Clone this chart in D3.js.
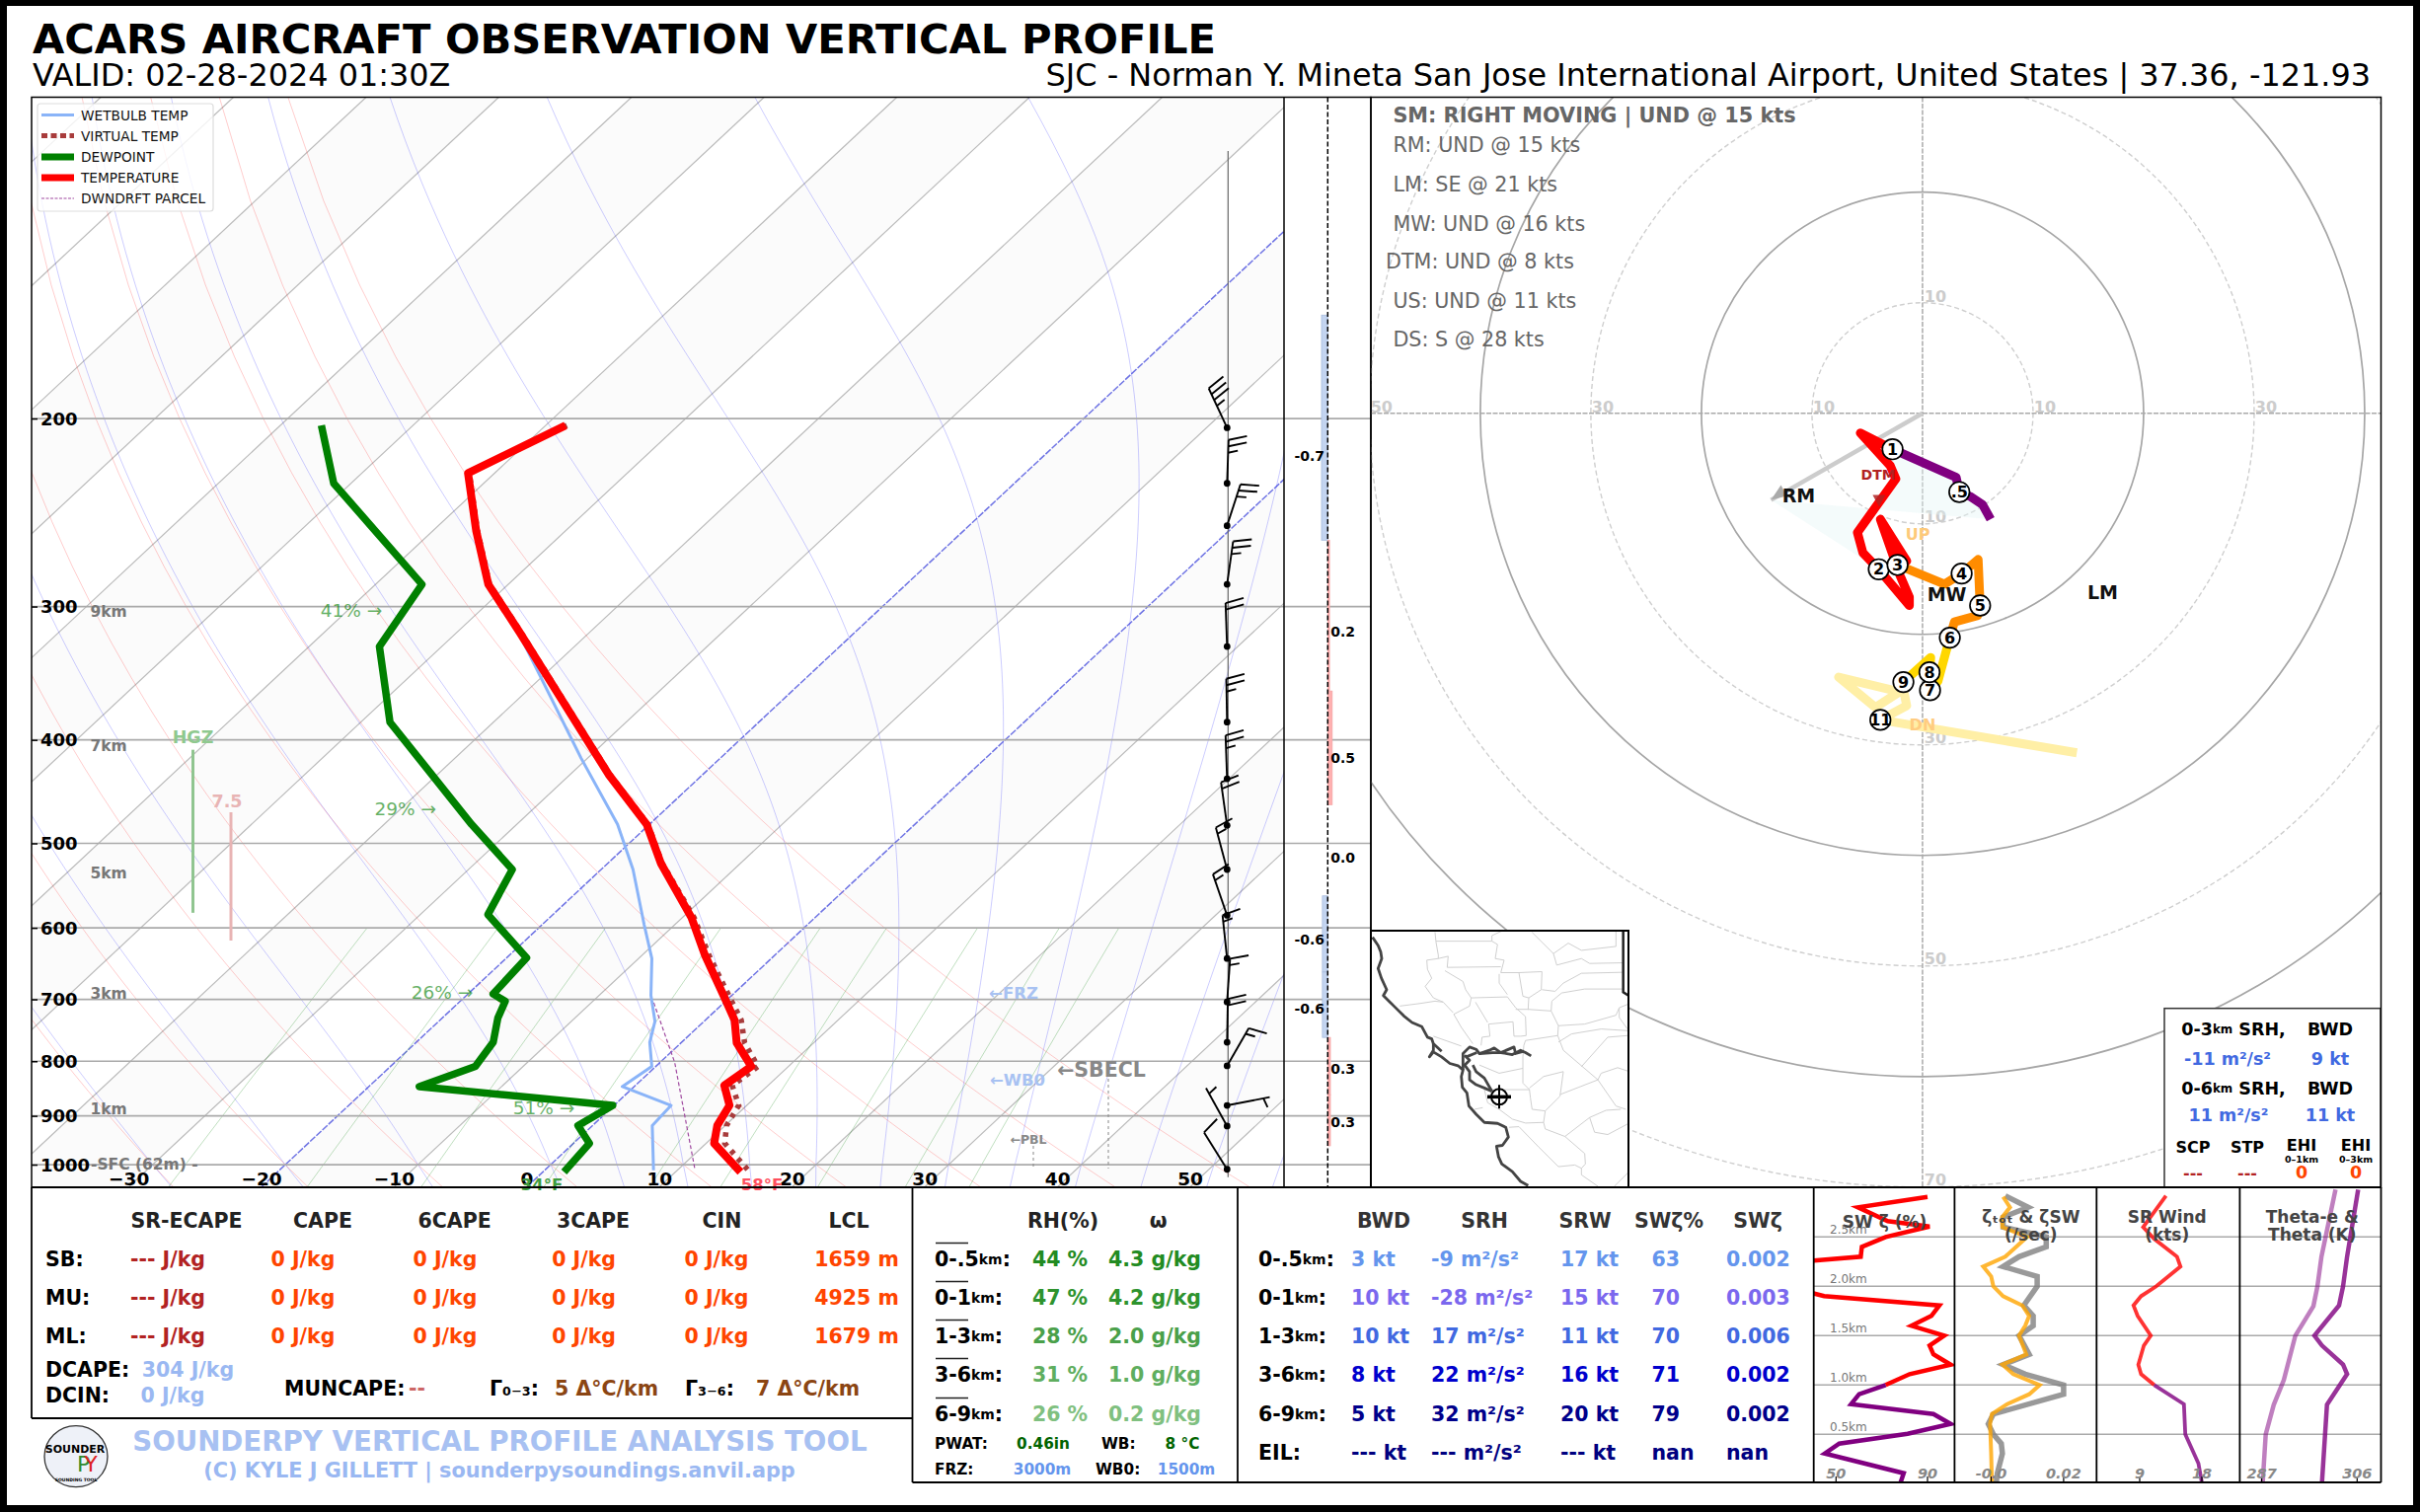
<!DOCTYPE html>
<html>
<head>
<meta charset="utf-8">
<script src="https://cdn.jsdelivr.net/npm/d3@7"></script>
<style>
  body { margin: 0; background: #000; }
  text { font-family: "DejaVu Sans"; }
</style>
</head>
<body>
<div id="chart"></div>
<script>
// Sounding values
const tempPres = [203, 225, 255, 286, 317, 431, 480, 522, 587, 636, 697, 732, 769, 809, 843, 880, 919, 955, 1016];
const tempC = [-58.5, -62.0, -56.7, -51.5, -45.3, -27.1, -20.2, -16.0, -9.3, -5.3, -0.4, 2.2, 4.2, 7.2, 6.7, 8.7, 9.4, 10.6, 14.9];
const virtC = [-58.4, -61.9, -56.6, -51.4, -45.2, -27.0, -20.1, -15.9, -9.1, -5.0, 0.0, 2.7, 4.8, 7.7, 7.3, 9.4, 10.1, 11.4, 15.6];
const dewPres = [203, 230, 286, 327, 385, 480, 529, 583, 640, 692, 703, 729, 768, 809, 845, 880, 919, 955, 1016];
const dewC = [-76.9, -71.3, -56.5, -54.7, -47.8, -33.4, -26.7, -24.9, -18.5, -18.1, -16.6, -15.8, -14.2, -13.6, -16.2, -0.1, -1.1, 1.2, 1.6];
const wetPres = [286, 317, 416, 480, 529, 596, 641, 694, 734, 768, 809, 845, 880, 919, 1012];
const wetC = [-51.6, -45.4, -30.5, -22.4, -17.6, -12.3, -9.0, -6.1, -3.7, -2.4, -0.3, -0.9, 4.3, 4.5, 8.2];
const dcapePres = [705, 802, 1009];
const dcapeC = [-5.3, 1.1, 11.2];

// Skew-T background line sets
const pressureTicks = [200, 300, 400, 500, 600, 700, 800, 900, 1000];
const tempTicks = [-30, -20, -10, 0, 10, 20, 30, 40, 50];
const isotherms = d3.range(-130, 60, 10);
const shadedFrom = [-100, -80, -60, -40, -20, 0, 20, 40];
const dryStart = [-30, -20, -10, 0, 10, 20, 30, 40, 50];
const moistStart = [-30, -20, -10, 0, 5, 10, 15, 20, 25, 30, 35, 40, 45, 50, 55];
const mixRatios = [0.0004, 0.001, 0.002, 0.004, 0.007, 0.01, 0.016, 0.024, 0.032];

// Wind barbs
const barbPres = [204, 230, 252, 286, 327, 385, 435, 481, 529, 584, 641, 704, 768, 808, 880, 920, 1010];
const barbDir = [335, 2, 18, 8, 358, 359, 358, 352, 345, 341, 354, 4, 1, 30, 79, 331, 328];
const barbKt = [35, 25, 25, 25, 20, 25, 25, 20, 15, 15, 15, 15, 20, 15, 5, 5, 10];

// Lapse-rate column between the skew-T and the hodograph
const columnEdges = [160, 260, 360, 460, 560, 660, 760, 860, 960];
const columnVals = [-0.7, 0.2, 0.5, 0.0, -0.6, -0.6, 0.3, 0.3];
const columnLabelPres = [217, 317, 416, 516, 615, 714, 813, 912];

// Hodograph (kt)
const hodoRings = [10, 20, 30, 40, 50, 60, 70];
const hodoPurpleU = [6.16, 5.42, 4.38, 3.33, 3.04, -2.71];
const hodoPurpleV = [-9.6, -8.26, -7.57, -7.13, -5.79, -3.26];
const hodoRedU = [-2.71, -5.62, -2.92, -2.41, -5.89, -5.39, -3.96, -1.19, -1.19, -2.02, -3.81, -1.43, -2.26];
const hodoRedV = [-3.26, -1.79, -4.75, -5.94, -10.79, -12.63, -14.12, -17.4, -16.65, -14.72, -9.6, -13.38, -13.73];
const hodoOrangeU = [-2.26, 1.99, 3.54, 5.03, 5.21, 5.0, 2.89, 2.47];
const hodoOrangeV = [-13.73, -15.46, -14.51, -13.23, -17.4, -18.3, -18.88, -20.31];
const hodoGoldU = [2.47, 1.4, 0.68, 0.63, 0.74, -1.73];
const hodoGoldV = [-20.31, -24.24, -25.07, -23.44, -22.1, -24.33];
const hodoPaleU = [-1.73, -1.73, -7.59, -4.26, -1.73, -1.43, -3.81, 13.96];
const hodoPaleV = [-24.33, -25.3, -23.88, -26.62, -24.98, -26.47, -27.75, -30.73];
const hodoMarks = ['.5', '1', '2', '3', '4', '5', '6', '7', '8', '9', '11'];
const hodoMarkU = [3.33, -2.71, -3.96, -2.26, 3.54, 5.21, 2.47, 0.68, 0.63, -1.73, -3.81];
const hodoMarkV = [-7.13, -3.26, -14.12, -13.73, -14.51, -17.4, -20.31, -25.07, -23.44, -24.33, -27.75];
const stormU = -13.7, stormV = -7.85;
const motionNames = ['RM', 'MW', 'LM', 'DTM', 'UP', 'DN'];
const motionU = [-11.2, 2.2, 16.3, -4.0, -0.42, 0.0];
const motionV = [-7.4, -16.33, -16.2, -5.55, -10.97, -28.2];
const motionText = ['RM: UND @ 15 kts', 'LM: SE @ 21 kts', 'MW: UND @ 16 kts', 'DTM: UND @ 8 kts', 'US: UND @ 11 kts', 'DS: S @ 28 kts'];

// Table text
const thermoHeads = ['SR-ECAPE', 'CAPE', '6CAPE', '3CAPE', 'CIN', 'LCL'];
const parcels = ['SB:', 'MU:', 'ML:'];
const srEcape = ['---', '---', '---'];
const cape = [0, 0, 0], cape6 = [0, 0, 0], cape3 = [0, 0, 0], cin = [0, 0, 0];
const lcl = [1659, 4925, 1679];
const moistLayers = ['0-.5', '0-1', '1-3', '3-6', '6-9'];
const layerRh = [44, 47, 28, 31, 26];
const layerMix = ['4.3', '4.2', '2.0', '1.0', '0.2'];
const kinLayers = ['0-.5', '0-1', '1-3', '3-6', '6-9'];
const bwd = ['3', '10', '10', '8', '5', '---'];
const srh = ['-9', '-28', '17', '22', '32', '---'];
const srw = ['17', '15', '11', '16', '20', '---'];
const swPct = ['63', '70', '70', '71', '79', 'nan'];
const swVort = ['0.002', '0.003', '0.006', '0.002', '0.002', 'nan'];

// Low level profile panels (height in km)
const swH = [2.906, 2.8, 2.66, 2.606, 2.5, 2.4, 2.3, 2.26, 2.2, 2.0, 1.9, 1.806, 1.7, 1.6, 1.5, 1.4, 1.31, 1.206, 1.11, 1.0];
const swRed = [90, 59.6, 72.6, 90.9, 71.7, 61.3, 60.8, 40.3, 10, 28, 44.8, 95.2, 91.7, 83, 97.3, 90.9, 92.6, 100.1, 82.2, 71.7];
const swLowH = [1.0, 0.906, 0.806, 0.706, 0.606, 0.506, 0.406, 0.306, 0.106, 0.01];
const swPurple = [71.7, 60.1, 56.6, 92.6, 100.1, 81.3, 51.4, 45.1, 79.6, 78.2];
const zetaTotH = [2.906, 2.8, 2.7, 2.6, 2.5, 2.3, 2.2, 2.1, 2.0, 1.9, 1.806, 1.7, 1.6, 1.5, 1.31, 1.206, 1.11, 1.0, 0.906, 0.806, 0.706, 0.606, 0.506, 0.306, 0.01];
const zetaTot = [0.0033, 0.0052, 0.003, 0.0031, 0.0099, 0.0039, -0.0022, 0, 0.0006, 0.0033, 0.0086, 0.0105, 0.0094, 0.0077, 0.0097, 0.0031, 0.0061, 0.0134, 0.0105, 0.0044, 0.0002, -0.0003, -0.0002, 0, 0.0002];
const zetaSwH = [2.916, 2.8, 2.7, 2.6, 2.5, 2.4, 2.3, 2.2, 2.1, 2.0, 1.806, 1.7, 1.6, 1.5, 1.31, 1.206, 1.11, 1.0, 0.906, 0.706, 0.606, 0.5, 0.406, 0.306, 0.106, 0.01];
const zetaSw = [0.0039, 0.0102, 0.0033, 0.0033, 0.0152, 0.0152, 0.0077, 0.0033, 0.0127, 0.0127, 0.009, 0.0116, 0.0116, 0.0077, 0.0105, 0.0033, 0.0094, 0.02, 0.02, 0.0006, -0.0008, 0.0006, 0.0028, 0.0031, 0.0017, 0.0014];
const srWindH = [2.916, 2.6, 2.48, 2.3, 2.2, 2.0, 1.9, 1.806, 1.7, 1.5, 1.4, 1.206, 1.11, 1.0];
const srWindKt = [12.8, 9.5, 11.1, 14.4, 14.9, 11.4, 9.2, 8.1, 8.7, 10.6, 9.6, 8.8, 9.2, 11.1];
const srWindLowH = [1.0, 0.806, 0.5, 0.206, 0.01];
const srWindLowKt = [11.1, 15.4, 15.6, 17.5, 18];
const thetaEH = [0.01, 0.5, 0.8, 1.05, 1.5, 1.8, 2.0, 2.3, 2.98];
const thetaE = [287.2, 287.8, 289.4, 291.4, 293.7, 297.3, 298.1, 298.9, 301.7];
const thetaH = [0.01, 0.8, 1.11, 1.206, 1.4, 1.5, 1.806, 2.0, 2.3, 2.98];
const theta = [299, 300, 304, 303.2, 299, 297.5, 302.4, 303.2, 304, 306.2];
const kmLines = [0.5, 1.0, 1.5, 2.0, 2.5];

// Locator map outlines, traced on a 783 x 783 map grid
const mapCoast = [
  [[5,20],[22,45],[30,65],[33,85],[22,115],[32,145],[48,180],[38,198],[70,230],[100,260],[125,280],[155,293],[172,325],[185,330],[190,345],[215,368]],
  [[190,345],[190,365],[178,385],[190,370],[215,385],[240,405],[265,412],[280,425],[275,445],[278,478],[292,495],[298,535],[320,560],[345,585],[385,588],[410,600],[418,630],[400,655],[382,658],[388,690],[398,712],[430,735],[455,765],[478,778]],
  [[280,425],[280,375],[300,355],[320,362],[330,375],[370,372],[395,372],[430,378],[455,365],[470,372],[487,382]],
  [[330,375],[360,365],[375,358],[395,372],[435,355],[440,375],[465,368]],
  [[285,380],[300,395],[285,410],[300,430],[300,455],[320,470],[345,480],[368,490]],
  [[290,385],[322,372]], [[310,410],[320,430],[345,450],[368,490]]
];
const mapBorder = [[767,0],[767,188],[783,198]];
const mapCounties = [
  [[195,5],[198,35],[205,75],[205,85],[235,78],[232,112],[395,110]],
  [[198,32],[368,32],[385,42],[378,85],[405,90],[395,128],[450,128],[520,125]],
  [[368,32],[368,15],[400,0]],
  [[490,5],[555,70],[600,38],[640,60],[745,48],[745,0]],
  [[555,70],[565,105],[640,85],[665,100],[765,98]],
  [[205,85],[170,90],[172,118],[185,145],[165,170],[190,205],[220,218],[250,250]],
  [[225,122],[280,155],[288,180],[305,205],[415,202],[440,235],[470,262],[472,320],[455,322],[435,322],[432,278],[358,285],[362,322],[338,325],[335,350]],
  [[88,230],[150,222],[195,215],[220,218]],
  [[305,205],[300,230],[252,255],[275,295],[310,345]],
  [[318,218],[355,280]],
  [[390,132],[390,160],[415,195]],
  [[450,128],[462,200],[480,205],[478,240],[548,245],[570,290],[568,320],[585,365],[690,455]],
  [[520,125],[518,180],[480,205]],
  [[520,180],[560,185],[585,160],[640,130],[765,127]],
  [[548,245],[550,215],[580,190],[650,178],[765,178]],
  [[440,240],[480,240]],
  [[570,290],[650,285],[745,258],[755,235],[780,225]],
  [[570,340],[610,315],[700,300],[780,305]],
  [[755,235],[755,265],[780,300]],
  [[640,415],[720,325],[780,320]],
  [[465,350],[470,335],[568,320]],
  [[465,350],[462,385],[462,465],[482,485],[345,485],[355,525],[390,545],[430,575],[470,587],[525,585],[530,550],[490,545],[485,510],[482,485]],
  [[482,480],[525,445],[585,430],[575,505],[530,550]],
  [[575,500],[690,455],[745,535],[775,545]],
  [[690,455],[700,435],[750,418],[780,428]],
  [[525,585],[530,605],[590,628],[650,680],[652,712],[640,725],[620,715],[570,720],[510,660],[450,598],[420,600]],
  [[590,628],[665,570],[680,615],[720,622],[780,590]],
  [[665,570],[715,548],[760,545]],
  [[640,725],[640,745],[690,780]],
  [[740,780],[780,740]],
  [[330,410],[390,435],[462,420]],
  [[190,322],[275,352]],
  [[340,540],[315,545]]
];
const stationGrid = [390, 507];

// Page
const W = 2452, H = 1532;
const svg = d3.select("#chart").append("svg").attr("width", W).attr("height", H)
  .style("display", "block");
svg.append("rect").attr("width", W).attr("height", H).attr("fill", "#000");
svg.append("rect").attr("x", 7).attr("y", 6).attr("width", W - 14).attr("height", H - 13).attr("fill", "#fff");

function label(g, x, y, s, o = {}) {
  return g.append("text").attr("x", x).attr("y", y).text(s)
    .attr("text-anchor", o.anchor || "start")
    .attr("dominant-baseline", "central")
    .attr("font-size", o.size || 20.5)
    .attr("font-weight", o.weight || "bold")
    .attr("font-style", o.italic ? "italic" : null)
    .attr("fill", o.fill || "#000")
    .attr("opacity", o.opacity === undefined ? null : o.opacity);
}
const pts = (xs, ys) => xs.map((d, i) => [d, ys[i]]);

// Skew-T scales
const left = 32, right = 1301, top_ = 98.5, bottom = 1203;
const y = d3.scaleLog().domain([1050, 100]).range([bottom, top_]);
const xT = d3.scaleLinear().domain([-37.3, 57.1]).range([left, right]);
const skew = 1.07;
const sx = (t, p) => xT(t) + skew * (bottom - y(p));
const tLine = d3.line().x(d => sx(d[1], d[0])).y(d => y(d[0]));

svg.append("clipPath").attr("id", "skewClip").append("rect")
  .attr("x", left).attr("y", top_).attr("width", right - left).attr("height", bottom - top_);
const bg = svg.append("g").attr("clip-path", "url(#skewClip)");

// Alternating isotherm shading
shadedFrom.forEach(t => {
  bg.append("path").attr("fill", "#fbfbfb")
    .attr("d", d3.line()([[sx(t, 1050), y(1050)], [sx(t + 10, 1050), y(1050)], [sx(t + 10, 100), y(100)], [sx(t, 100), y(100)]]));
});

// Isotherms
isotherms.forEach(t => {
  const special = t === 0 || t === -20;
  bg.append("path").attr("fill", "none")
    .attr("stroke", special ? "#6f74e4" : "#bbb")
    .attr("stroke-width", special ? 1.5 : 1.2)
    .attr("stroke-dasharray", special ? "7 1.5" : null)
    .attr("d", tLine([[1050, t], [100, t]]));
});

// Dry adiabats
const presAll = d3.range(1050, 95, -25);
dryStart.forEach(t0 => {
  bg.append("path").attr("fill", "none").attr("stroke", "red").attr("stroke-opacity", 0.2).attr("stroke-width", 1)
    .attr("d", tLine(presAll.map(p => [p, (t0 + 273.15) * Math.pow(p / 1000, 0.286) - 273.15])));
});

// Moist adiabats, stepped from 1000 hPa
function satMix(tK, p) {
  const e = 6.112 * Math.exp(17.67 * (tK - 273.15) / (tK - 29.65));
  return 0.622 * e / (p - e);
}
function moistLine(t0) {
  const out = [];
  let tK = t0 + 273.15;
  const slope = (t, p) => {
    const r = satMix(t, p);
    return (287 * t + 2.5e6 * r) / (1005 * p + 2.5e6 * 2.5e6 * r * 0.622 * p / (287 * t * t));
  };
  for (let p = 1000; p >= 100; p -= 5) {
    out.push([p, tK - 273.15]);
    tK -= slope(tK, p) * 5;
  }
  const t1 = t0 + 273.15 + slope(t0 + 273.15, 1000) * 50;
  out.unshift([1050, t1 - 273.15]);
  return out;
}
moistStart.forEach(t0 => {
  bg.append("path").attr("fill", "none").attr("stroke", "blue").attr("stroke-opacity", 0.2).attr("stroke-width", 1)
    .attr("d", tLine(moistLine(t0)));
});

// Mixing ratio lines
mixRatios.forEach(w => {
  const line = d3.range(1050, 599, -25).map(p => {
    const v = Math.log((w * p / (0.622 + w)) / 6.112);
    return [p, 243.5 * v / (17.67 - v)];
  });
  bg.append("path").attr("fill", "none").attr("stroke", "green").attr("stroke-opacity", 0.25).attr("stroke-width", 1)
    .attr("d", tLine(line));
});

// Pressure lines run on through the column to the hodograph
pressureTicks.forEach(p => {
  svg.append("line").attr("x1", left).attr("x2", 1389).attr("y1", y(p)).attr("y2", y(p))
    .attr("stroke", "#aaa").attr("stroke-width", 1.7);
});

// Profile lines
const prof = svg.append("g").attr("clip-path", "url(#skewClip)");
prof.append("path").datum(pts(dcapePres, dcapeC)).attr("fill", "none").attr("stroke", "#a04aa0")
  .attr("stroke-width", 1.2).attr("stroke-dasharray", "4 2.5").attr("d", tLine);
prof.append("path").datum(pts(wetPres, wetC)).attr("fill", "none").attr("stroke", "#8ab4f8")
  .attr("stroke-width", 3).attr("stroke-linejoin", "round").attr("d", tLine);
prof.append("path").datum(pts(tempPres, virtC)).attr("fill", "none").attr("stroke", "#a83c3c")
  .attr("stroke-width", 5.5).attr("stroke-dasharray", "4.5 6").attr("d", tLine);
prof.append("path").datum(pts(dewPres, dewC)).attr("fill", "none").attr("stroke", "#008000")
  .attr("stroke-width", 7.5).attr("stroke-linejoin", "round").attr("d", tLine);
prof.append("path").datum(pts(tempPres, tempC)).attr("fill", "none").attr("stroke", "#ff0000")
  .attr("stroke-width", 8).attr("stroke-linejoin", "round").attr("d", tLine);

// Barbs
const barbX = 1243.3, staffLen = 44;
svg.append("line").attr("x1", 1244.3).attr("x2", 1244.3).attr("y1", 153).attr("y2", 1192.7)
  .attr("stroke", "#666").attr("stroke-width", 1.2);
const barbs = svg.append("g").attr("stroke", "#000").attr("stroke-width", 1.9).attr("fill", "none");
barbPres.forEach((p, i) => {
  const a = barbDir[i] * Math.PI / 180;
  const dx = Math.sin(a), dy = -Math.cos(a);
  const y0 = y(p);
  const tipX = barbX + dx * staffLen, tipY = y0 + dy * staffLen;
  barbs.append("line").attr("x1", barbX).attr("y1", y0).attr("x2", tipX).attr("y2", tipY);
  const tilt = 14 * Math.PI / 180;
  const fx = -dy * Math.cos(tilt) + dx * Math.sin(tilt);
  const fy = dx * Math.cos(tilt) + dy * Math.sin(tilt);
  let kt = barbKt[i], step = kt < 10 ? 1 : 0;
  while (kt >= 5) {
    const len = kt >= 10 ? 19 : 10;
    const bx = tipX - dx * step * 6.5, by = tipY - dy * step * 6.5;
    barbs.append("line").attr("x1", bx).attr("y1", by).attr("x2", bx + fx * len).attr("y2", by + fy * len);
    kt -= kt >= 10 ? 10 : 5;
    step++;
  }
  svg.append("circle").attr("cx", barbX).attr("cy", y0).attr("r", 3.4).attr("fill", "#000");
});

// Column bars
const colX = d3.scaleLinear().domain([0, 1]).range([1345.3, 1354.3]);
columnVals.forEach((v, i) => {
  if (v === 0) return;
  svg.append("rect").attr("x", Math.min(colX(0), colX(v))).attr("width", Math.abs(colX(v) - colX(0)))
    .attr("y", y(columnEdges[i])).attr("height", y(columnEdges[i + 1]) - y(columnEdges[i]))
    .attr("fill", v < 0 ? "#c3d4f0" : "#ffb0b0")
    .attr("stroke", v < 0 ? "#a9bcdc" : "#f5a5a5").attr("stroke-width", 0.8);
});
svg.append("line").attr("x1", colX(0)).attr("x2", colX(0)).attr("y1", top_).attr("y2", bottom)
  .attr("stroke", "#000").attr("stroke-width", 1.5).attr("stroke-dasharray", "5 2.5");
columnVals.forEach((v, i) => {
  label(svg, v < 0 ? 1326.7 : 1360.7, y(columnLabelPres[i]), v.toFixed(1), { anchor: "middle", size: 14 });
});

// Left and bottom axes drawn inside the plot
const yAxis = svg.append("g").attr("transform", `translate(${left},0)`)
  .call(d3.axisLeft(y).tickValues(pressureTicks).tickFormat(d3.format("d")).tickSize(-6));
yAxis.select(".domain").remove();
yAxis.selectAll("line").attr("stroke", "#000").attr("stroke-width", 1.5);
yAxis.selectAll("text").attr("x", 9).attr("dy", "0.35em").attr("text-anchor", "start")
  .attr("font-size", 18).attr("font-weight", "bold").attr("font-family", "DejaVu Sans").attr("fill", "#000");

const xAxis = svg.append("g").attr("transform", "translate(0,1195)")
  .call(d3.axisBottom(xT).tickValues(tempTicks).tickFormat(d3.format("d")).tickSize(0));
xAxis.select(".domain").remove();
xAxis.selectAll("text").attr("y", 0).attr("dy", "0.35em")
  .attr("font-size", 18.5).attr("font-weight", "bold").attr("font-family", "DejaVu Sans").attr("fill", "#000");

// Skew-T annotations
[["9km", 619.5], ["7km", 756], ["5km", 884.5], ["3km", 1006.8], ["1km", 1124]].forEach(d => {
  label(svg, 110, d[1], d[0], { anchor: "middle", size: 15.5, fill: "#777" });
});
label(svg, 92, 1180, "-SFC (62m) -", { size: 15.5, fill: "#777" });
[["41% →", 356, 618.7], ["29% →", 410.7, 819.5], ["26% →", 448, 1005], ["51% →", 551, 1122]].forEach(d => {
  label(svg, d[1], d[2], d[0], { anchor: "middle", size: 18.5, weight: "normal", fill: "#008000", opacity: 0.6 });
});
label(svg, 195.5, 747, "HGZ", { anchor: "middle", size: 17.5, fill: "#8fc98f" });
svg.append("line").attr("x1", 195.5).attr("x2", 195.5).attr("y1", y(408.6)).attr("y2", y(580.8))
  .attr("stroke", "#90c590").attr("stroke-width", 3);
label(svg, 230, 812, "7.5", { anchor: "middle", size: 17.5, fill: "#e8b4b4" });
svg.append("line").attr("x1", 234).attr("x2", 234).attr("y1", y(467.6)).attr("y2", y(616.7))
  .attr("stroke", "#e8b4b4").attr("stroke-width", 3);
label(svg, 1027, 1006.4, "←FRZ", { anchor: "middle", size: 16.5, fill: "#a8c2f2" });
label(svg, 1031, 1094.5, "←WB0", { anchor: "middle", size: 16.5, fill: "#a8c2f2" });
label(svg, 1116, 1084, "←SBECL", { anchor: "middle", size: 20.5, fill: "#888" });
label(svg, 1042, 1154, "←PBL", { anchor: "middle", size: 12.5, fill: "#888" });
[[1123, 1093], [1047, 1161]].forEach(d => {
  svg.append("line").attr("x1", d[0]).attr("x2", d[0]).attr("y1", d[1]).attr("y2", 1184)
    .attr("stroke", "#888").attr("stroke-width", 1).attr("stroke-dasharray", "3 3");
});
label(svg, 549, 1200.6, "34°F", { anchor: "middle", size: 16.5, fill: "#3f9c3f" });
label(svg, 772, 1200.6, "58°F", { anchor: "middle", size: 16.5, fill: "#ff5060" });

// Legend
const leg = svg.append("g");
leg.append("rect").attr("x", 38).attr("y", 105).attr("width", 178).attr("height", 109).attr("rx", 3)
  .attr("fill", "#fff").attr("fill-opacity", 0.8).attr("stroke", "#ddd").attr("stroke-width", 1.2);
[["WETBULB TEMP", 116.6, "#8ab4f8", 3, null],
 ["VIRTUAL TEMP", 137.6, "#a83c3c", 5, "6 3.5"],
 ["DEWPOINT", 159, "#008000", 7, null],
 ["TEMPERATURE", 180, "#ff0000", 7, null],
 ["DWNDRFT PARCEL", 201, "#a04aa0", 1.2, "3 1.5"]].forEach(d => {
  leg.append("line").attr("x1", 42).attr("x2", 75).attr("y1", d[1]).attr("y2", d[1])
    .attr("stroke", d[2]).attr("stroke-width", d[3]).attr("stroke-dasharray", d[4]);
  label(leg, 82, d[1], d[0], { size: 13.7, weight: "normal", fill: "#111" });
});

// Frames of the skew-T and the column
svg.append("rect").attr("x", left).attr("y", top_).attr("width", 1389 - left).attr("height", bottom - top_)
  .attr("fill", "none").attr("stroke", "#000").attr("stroke-width", 1.5);
svg.append("line").attr("x1", right).attr("x2", right).attr("y1", top_).attr("y2", bottom).attr("stroke", "#000").attr("stroke-width", 1.5);

// Hodograph
const hx = d3.scaleLinear().domain([-49.9, 41.43]).range([1389, 2412]);
const hy = d3.scaleLinear().domain([28.6, -70.05]).range([top_, bottom]);
const hLine = d3.line().x(d => hx(d[0])).y(d => hy(d[1]));
svg.append("clipPath").attr("id", "hodoClip").append("rect")
  .attr("x", 1389).attr("y", top_).attr("width", 2412 - 1389).attr("height", bottom - top_);
const hodo = svg.append("g").attr("clip-path", "url(#hodoClip)");
hodoRings.forEach(r => {
  const solid = r % 20 === 0;
  hodo.append("circle").attr("cx", hx(0)).attr("cy", hy(0)).attr("r", hx(r) - hx(0)).attr("fill", "none")
    .attr("stroke", solid ? "#a6a6a6" : "#cfcfcf").attr("stroke-width", solid ? 1.7 : 1.4)
    .attr("stroke-dasharray", solid ? null : "5 3");
});
hodo.append("line").attr("x1", 1389).attr("x2", 2412).attr("y1", hy(0)).attr("y2", hy(0))
  .attr("stroke", "#aaa").attr("stroke-width", 1.5).attr("stroke-dasharray", "5 1.5");
hodo.append("line").attr("x1", hx(0)).attr("x2", hx(0)).attr("y1", top_).attr("y2", bottom)
  .attr("stroke", "#aaa").attr("stroke-width", 1.5).attr("stroke-dasharray", "5 1.5");
[10, 30, 50, 70].forEach(r => {
  label(hodo, hx(0) + 13, hy(-r) - 7, r, { anchor: "middle", size: 16, fill: "#ccc" });
  if (r < 70) {
    label(hodo, hx(-r) + 12, hy(0) - 6, r, { anchor: "middle", size: 16, fill: "#ccc" });
    if (r < 50) label(hodo, hx(r) + 12, hy(0) - 6, r, { anchor: "middle", size: 16, fill: "#ccc" });
  }
  if (r === 10) label(hodo, hx(0) + 13, hy(r) - 6, r, { anchor: "middle", size: 16, fill: "#ccc" });
});

// Shaded helicity area and storm motion vector
const srhArea = [[stormU, stormV]].concat(pts(hodoPurpleU, hodoPurpleV), pts(hodoRedU.slice(1, 7), hodoRedV.slice(1, 7)));
hodo.append("path").attr("d", hLine(srhArea) + "Z").attr("fill", "#e4f4f6").attr("opacity", 0.4);
hodo.append("path").attr("d", hLine([[0, 0], [stormU, stormV]]))
  .attr("stroke", "#ccc").attr("stroke-width", 4.5).attr("fill", "none");
hodo.append("path").attr("fill", "#aaa").attr("stroke", "none")
  .attr("d", d3.line()([[hx(stormU), hy(stormV)], [hx(stormU) + 16, hy(stormV) - 4], [hx(stormU) + 10, hy(stormV) - 15]]) + "Z");

// Hodograph trace, one colour per layer
[[hodoPaleU, hodoPaleV, "#ffefa6"], [hodoGoldU, hodoGoldV, "#ffd700"], [hodoOrangeU, hodoOrangeV, "#ff8c00"],
 [hodoPurpleU, hodoPurpleV, "#800080"], [hodoRedU, hodoRedV, "#ff0000"]].forEach(d => {
  hodo.append("path").attr("d", hLine(pts(d[0], d[1]))).attr("fill", "none")
    .attr("stroke", d[2]).attr("stroke-width", 9).attr("stroke-linejoin", "round");
});
hodo.append("path").attr("fill", "#b22222").attr("opacity", 0.85)
  .attr("d", d3.line()([[hx(-3.93) - 6.5, hy(-7.93) - 6], [hx(-3.93) + 6.5, hy(-7.93) - 6], [hx(-3.93), hy(-7.93) + 6]]) + "Z");
hodoMarks.forEach((m, i) => {
  hodo.append("circle").attr("cx", hx(hodoMarkU[i])).attr("cy", hy(hodoMarkV[i])).attr("r", 10.3)
    .attr("fill", "#fff").attr("stroke", "#000").attr("stroke-width", 1.7);
  label(hodo, hx(hodoMarkU[i]), hy(hodoMarkV[i]), m, { anchor: "middle", size: 16 });
});
motionNames.forEach((m, i) => {
  const o = { RM: ["#111", 19], MW: ["#111", 19], LM: ["#111", 19], DTM: ["#b22222", 14], UP: ["#fdc97a", 16], DN: ["#ffcc80", 16] }[m];
  label(hodo, hx(motionU[i]), hy(motionV[i]), m, { anchor: "middle", size: o[1], fill: o[0] });
});

label(svg, 1411.4, 117, "SM: RIGHT MOVING | UND @ 15 kts", { size: 20.8, fill: "#666" });
motionText.forEach((t, i) => {
  label(svg, t.startsWith("DTM") ? 1404 : 1411.4, [147, 187, 226.5, 265, 304.6, 343.5][i], t, { size: 20.7, weight: "normal", fill: "#666" });
});

// Locator map
const mx = d3.scaleLinear().domain([0, 783]).range([1389, 1650]);
const my = d3.scaleLinear().domain([0, 783]).range([943, 1203]);
const mLine = d3.line().x(d => mx(d[0])).y(d => my(d[1]));
svg.append("clipPath").attr("id", "mapClip").append("rect").attr("x", 1389).attr("y", 943).attr("width", 261).attr("height", 260);
svg.append("rect").attr("x", 1389).attr("y", 943).attr("width", 261).attr("height", 260).attr("fill", "#fff");
const map = svg.append("g").attr("clip-path", "url(#mapClip)");
mapCounties.forEach(c => {
  map.append("path").attr("d", mLine(c)).attr("fill", "none").attr("stroke", "#d0d0d0").attr("stroke-width", 1);
});
mapCoast.forEach(c => {
  map.append("path").attr("d", mLine(c)).attr("fill", "none").attr("stroke", "#444").attr("stroke-width", 2.8).attr("stroke-linejoin", "round");
});
map.append("path").attr("d", mLine(mapBorder)).attr("fill", "none").attr("stroke", "#222").attr("stroke-width", 2.5);
svg.append("rect").attr("x", 1389).attr("y", 943).attr("width", 261).attr("height", 260)
  .attr("fill", "none").attr("stroke", "#000").attr("stroke-width", 2);
const sxp = mx(stationGrid[0]), syp = my(stationGrid[1]);
svg.append("circle").attr("cx", sxp).attr("cy", syp).attr("r", 8).attr("fill", "none").attr("stroke", "#000").attr("stroke-width", 2);
svg.append("line").attr("x1", sxp - 12).attr("x2", sxp + 12).attr("y1", syp).attr("y2", syp).attr("stroke", "#000").attr("stroke-width", 3.5);
svg.append("line").attr("x1", sxp).attr("x2", sxp).attr("y1", syp - 12).attr("y2", syp + 12).attr("stroke", "#000").attr("stroke-width", 2);

// SRH inset box
const box = svg.append("g");
box.append("rect").attr("x", 2193).attr("y", 1021.7).attr("width", 219).attr("height", 181.3)
  .attr("fill", "#fff").attr("stroke", "#333").attr("stroke-width", 1.5);
function kmText(g, x, y, head, tail, o = {}) {
  const t = label(g, x, y, head, { size: o.size || 17.5, anchor: o.anchor, fill: o.fill });
  t.append("tspan").attr("font-size", (o.size || 17.5) * 0.68).text("km");
  if (tail) t.append("tspan").text(tail);
  return t;
}
kmText(box, 2263, 1043, "0-3", " SRH,", { anchor: "middle" });
label(box, 2361, 1043, "BWD", { anchor: "middle", size: 17.5 });
label(box, 2257, 1073, "-11 m²/s²", { anchor: "middle", size: 17.5, fill: "#4169e1" });
label(box, 2361, 1073, "9 kt", { anchor: "middle", size: 17.5, fill: "#4169e1" });
kmText(box, 2263, 1102.7, "0-6", " SRH,", { anchor: "middle" });
label(box, 2361, 1102.7, "BWD", { anchor: "middle", size: 17.5 });
label(box, 2258, 1130, "11 m²/s²", { anchor: "middle", size: 17.5, fill: "#4169e1" });
label(box, 2361, 1130, "11 kt", { anchor: "middle", size: 17.5, fill: "#4169e1" });
label(box, 2222, 1162, "SCP", { anchor: "middle", size: 16 });
label(box, 2277, 1162, "STP", { anchor: "middle", size: 16 });
label(box, 2332, 1160, "EHI", { anchor: "middle", size: 16 });
label(box, 2387, 1160, "EHI", { anchor: "middle", size: 16 });
label(box, 2332, 1174, "0–1km", { anchor: "middle", size: 9.5 });
label(box, 2387, 1174, "0–3km", { anchor: "middle", size: 9.5 });
label(box, 2222, 1188, "---", { anchor: "middle", size: 16, fill: "#b22222" });
label(box, 2277, 1188, "---", { anchor: "middle", size: 16, fill: "#b22222" });
label(box, 2332, 1188, "0", { anchor: "middle", size: 17.5, fill: "#ff4500" });
label(box, 2387, 1188, "0", { anchor: "middle", size: 17.5, fill: "#ff4500" });

// Titles
label(svg, 33, 39, "ACARS AIRCRAFT OBSERVATION VERTICAL PROFILE", { size: 41.7 });
label(svg, 33, 76, "VALID: 02-28-2024 01:30Z", { size: 31.9, weight: "normal" });
label(svg, 2402, 76, "SJC - Norman Y. Mineta San Jose International Airport, United States | 37.36, -121.93", { anchor: "end", size: 31.9, weight: "normal" });

// Thermo table
const tbl = svg.append("g").attr("transform", "translate(0,1.5)");
const headX = [189, 327, 460.6, 601, 731.5, 860];
thermoHeads.forEach((h, i) => label(tbl, headX[i], 1235, h, { anchor: "middle", fill: "#222" }));
parcels.forEach((p, r) => {
  const yy = [1274, 1313, 1352][r];
  label(tbl, 46, yy, p);
  label(tbl, 170, yy, srEcape[r] + " J/kg", { anchor: "middle", fill: "#b22222" });
  [cape, cape6, cape3, cin].forEach((col, c) => {
    label(tbl, [307, 451, 591.6, 726][c], yy, col[r] + " J/kg", { anchor: "middle", fill: "#ff4500" });
  });
  label(tbl, 868, yy, lcl[r] + " m", { anchor: "middle", fill: "#ff4500" });
});
label(tbl, 46, 1386.7, "DCAPE:");
label(tbl, 46, 1412.7, "DCIN:");
label(tbl, 190.5, 1386.7, "304 J/kg", { anchor: "middle", fill: "#9ab8f2" });
label(tbl, 175, 1412.7, "0 J/kg", { anchor: "middle", fill: "#9ab8f2" });
label(tbl, 288, 1405, "MUNCAPE:");
label(tbl, 414, 1405, "--", { fill: "#cc6666" });
label(tbl, 496, 1405, "Γ₀₋₃:");
label(tbl, 562, 1405, "5 Δ°C/km", { fill: "#8b4513" });
label(tbl, 694, 1405, "Γ₃₋₆:");
label(tbl, 766, 1405, "7 Δ°C/km", { fill: "#8b4513" });

// Moisture table
label(tbl, 1077, 1235, "RH(%)", { anchor: "middle", fill: "#222" });
label(tbl, 1173.6, 1235, "ω", { anchor: "middle", fill: "#222" });
const moistColors = ["#228b22", "#2e932e", "#4aa04a", "#5fae5f", "#80c080"];
moistLayers.forEach((m, r) => {
  const yy = [1274, 1313, 1352, 1391, 1431][r];
  tbl.append("line").attr("x1", 948).attr("x2", 981).attr("y1", yy - 16).attr("y2", yy - 16).attr("stroke", "#222").attr("stroke-width", 1.5);
  kmText(tbl, 947, yy, m, ":", { size: 20.5 });
  label(tbl, 1074, yy, layerRh[r] + " %", { anchor: "middle", fill: moistColors[r] });
  label(tbl, 1170, yy, layerMix[r] + " g/kg", { anchor: "middle", fill: moistColors[r] });
});
label(tbl, 947, 1461.7, "PWAT:", { size: 15.3 });
label(tbl, 1057, 1461.7, "0.46in", { anchor: "middle", size: 15.3, fill: "#006400" });
label(tbl, 1116, 1461.7, "WB:", { size: 15.3 });
label(tbl, 1198, 1461.7, "8 °C", { anchor: "middle", size: 15.3, fill: "#006400" });
label(tbl, 947, 1487, "FRZ:", { size: 15.3 });
label(tbl, 1056, 1487, "3000m", { anchor: "middle", size: 15.3, fill: "#6495ed" });
label(tbl, 1110, 1487, "WB0:", { size: 15.3 });
label(tbl, 1202, 1487, "1500m", { anchor: "middle", size: 15.3, fill: "#6495ed" });

// Kinematic table
[["BWD", 1402], ["SRH", 1504], ["SRW", 1606], ["SWζ%", 1691], ["SWζ", 1781]].forEach(d => {
  label(tbl, d[1], 1235, d[0], { anchor: "middle", fill: "#333" });
});
const kinColors = ["#6495ed", "#7b68ee", "#4169e1", "#0000cd", "#00008b", "#000080"];
[1274, 1313, 1352, 1391, 1431, 1470].forEach((yy, r) => {
  if (r < 5) kmText(tbl, 1275, yy, kinLayers[r], ":", { size: 20.5 });
  else label(tbl, 1275, yy, "EIL:");
  const f = kinColors[r];
  label(tbl, 1369, yy, bwd[r] + " kt", { fill: f });
  label(tbl, 1450, yy, srh[r] + " m²/s²", { fill: f });
  label(tbl, 1581, yy, srw[r] + " kt", { fill: f });
  label(tbl, 1673.5, yy, swPct[r], { fill: f });
  label(tbl, 1749, yy, swVort[r], { fill: f });
});

// Low level panels
const hKm = d3.scaleLinear().domain([0, 3]).range([1503.3, 1203.3]);
const panelEdges = [1837.7, 1980.4, 2124.3, 2269.4, 2412.5];
kmLines.forEach(k => {
  svg.append("line").attr("x1", panelEdges[0]).attr("x2", panelEdges[4]).attr("y1", hKm(k)).attr("y2", hKm(k))
    .attr("stroke", "#aaa").attr("stroke-width", 1.5);
  label(svg, 1854, hKm(k) - 3.5, k.toFixed(1) + "km", { size: 12, weight: "normal", fill: "#777" }).attr("dominant-baseline", "auto");
});
const pSw = d3.scaleLinear().domain([50, 90]).range([1860.3, 1953]);
const pZeta = d3.scaleLinear().domain([0, 0.02]).range([2017.5, 2090.9]);
const pWind = d3.scaleLinear().domain([9, 18]).range([2168, 2231]);
const pTheta = d3.scaleLinear().domain([287, 306]).range([2291.6, 2388.3]);
const panelLines = svg.append("g");
panelEdges.slice(0, 4).forEach((e, i) => {
  svg.append("clipPath").attr("id", "pc" + i).append("rect")
    .attr("x", e).attr("y", bottom).attr("width", panelEdges[i + 1] - e).attr("height", 1502 - bottom);
});
function panelLine(scale, edge, xs, hs, color, width, opacity) {
  panelLines.append("path").attr("clip-path", `url(#pc${edge})`)
    .attr("d", d3.line().x(d => scale(d[0])).y(d => hKm(d[1]))(pts(xs, hs)))
    .attr("fill", "none").attr("stroke", color).attr("stroke-width", width).attr("opacity", opacity);
}
panelLine(pSw, 0, swRed, swH, "#ff0000", 4.5, 1);
panelLine(pSw, 0, swPurple, swLowH, "#800080", 4.5, 1);
panelLine(pZeta, 1, zetaSw, zetaSwH, "#808080", 5.5, 0.8);
panelLine(pZeta, 1, zetaTot, zetaTotH, "#ffa500", 4, 0.8);
panelLine(pWind, 2, srWindKt, srWindH, "#ff0000", 3.8, 0.8);
panelLine(pWind, 2, srWindLowKt, srWindLowH, "#800080", 3.8, 0.8);
panelLine(pTheta, 3, thetaE, thetaEH, "#800080", 4.5, 0.5);
panelLine(pTheta, 3, theta, thetaH, "#800080", 4.5, 0.8);

[[pSw, [50, 90], ["50", "90"]], [pZeta, [0, 0.02], ["-0.0", "0.02"]], [pWind, [9, 18], ["9", "18"]], [pTheta, [287, 306], ["287", "306"]]].forEach(d => {
  d[1].forEach((v, i) => {
    svg.append("line").attr("x1", d[0](v)).attr("x2", d[0](v)).attr("y1", 1496).attr("y2", 1502).attr("stroke", "#000").attr("stroke-width", 1.2);
    label(svg, d[0](v), 1492.7, d[2][i], { anchor: "middle", size: 14.5, italic: true, fill: "#888" });
  });
});
const titleO = { anchor: "middle", size: 17, fill: "#444" };
label(svg, 1909.5, 1237.7, "SW ζ (%)", titleO);
label(svg, 2057.8, 1233, "ζₜₒₜ & ζSW", titleO);
label(svg, 2057.8, 1251, "(/sec)", titleO);
label(svg, 2195.7, 1233, "SR Wind", titleO);
label(svg, 2195.7, 1251, "(kts)", titleO);
label(svg, 2342.8, 1233, "Theta-e &", titleO);
label(svg, 2342.8, 1251, "Theta (K)", titleO);

// Table frames
const frame = svg.append("g").attr("stroke", "#000").attr("stroke-width", 1.8);
[[32, 1203, 2412.5, 1203], [32, 1203, 32, 1437], [32, 1437, 924.5, 1437], [924.5, 1203, 924.5, 1502], [924.5, 1502, 2412.5, 1502], [1254, 1203, 1254, 1502]]
  .concat(panelEdges.map(x => [x, 1203, x, 1502]))
  .forEach(d => frame.append("line").attr("x1", d[0]).attr("y1", d[1]).attr("x2", d[2]).attr("y2", d[3]));
svg.append("rect").attr("x", 1389).attr("y", top_).attr("width", 2412.5 - 1389).attr("height", bottom - top_)
  .attr("fill", "none").attr("stroke", "#000").attr("stroke-width", 1.5);

// Footer and logo
label(svg, 506.4, 1460.7, "SOUNDERPY VERTICAL PROFILE ANALYSIS TOOL", { anchor: "middle", size: 27.7, fill: "#a8c1f2" });
label(svg, 506, 1490, "(C) KYLE J GILLETT | sounderpysoundings.anvil.app", { anchor: "middle", size: 20.8, fill: "#9ab8f2" });
const logo = svg.append("g");
logo.append("ellipse").attr("cx", 77).attr("cy", 1475.7).attr("rx", 32).attr("ry", 31)
  .attr("fill", "#eef1f8").attr("stroke", "#333").attr("stroke-width", 1.3);
label(logo, 76, 1468, "SOUNDER", { anchor: "middle", size: 11 });
label(logo, 78, 1483, "P", { size: 22, weight: "normal", fill: "#2e8b2e" });
label(logo, 92, 1483, "Y", { anchor: "middle", size: 22, weight: "normal", fill: "#d22" });
label(logo, 77, 1499, "SOUNDING TOOL", { anchor: "middle", size: 4.5 });
</script>
</body>
</html>
